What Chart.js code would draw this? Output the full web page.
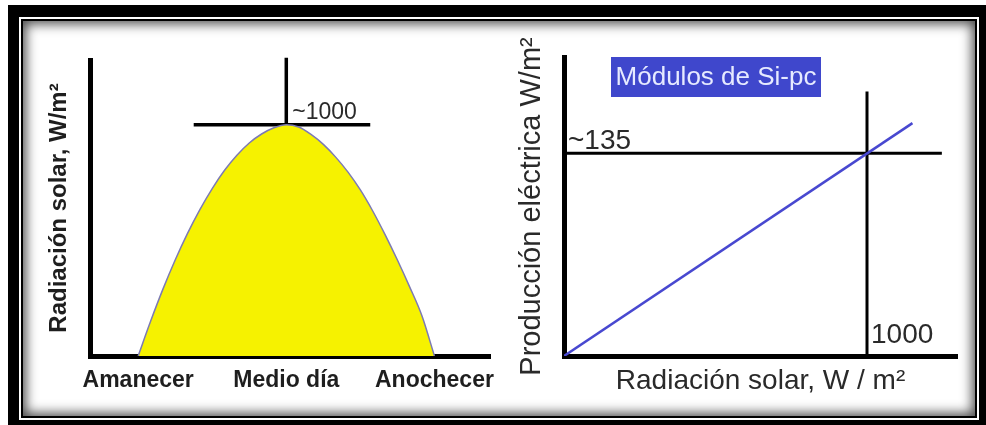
<!DOCTYPE html>
<html>
<head>
<meta charset="utf-8">
<script src="https://cdn.jsdelivr.net/npm/chart.js@4"></script>
<style>
  body { margin: 0; background: #fff; }
  #wrap { position: relative; width: 986px; height: 425px; overflow: hidden; }
  .marco { position: absolute; left: 8px; top: 5px; width: 978px; height: 420px; background: #000; }
  .hueco { position: absolute; left: 19px; top: 17px; width: 960px; height: 403px; background: #fff; }
  .linea { position: absolute; left: 21px; top: 19px; width: 952px; height: 395px; border: 2px solid #000;
           background: #fff; box-shadow: inset 0 0 12px 3px rgba(0,0,0,.7); }
  canvas { position: absolute; left: 0; top: 0; }
</style>
</head>
<body>
<div id="wrap">
  <div class="marco"></div>
  <div class="hueco"></div>
  <div class="linea"></div>
  <canvas id="dia" width="986" height="425"></canvas>
  <canvas id="modulo" width="986" height="425"></canvas>
</div>
<script>
// radiación solar a lo largo del día (hora, W/m2)
const horas     = [6, 6.5, 7, 7.5, 8, 8.5, 9, 9.5, 10, 10.5, 11, 11.5, 12, 12.5, 13, 13.5, 14, 14.5, 15, 15.5, 16, 16.5, 17, 17.5, 18];
const radiacion = [0, 149, 288, 415, 530, 633, 724, 803, 868, 921, 960, 987, 1000, 990, 958, 915, 860, 795, 718, 627, 525, 415, 298, 172, 0];
const horasEje     = [6, 12, 18];
const etiquetasEje = ['Amanecer', 'Medio día', 'Anochecer'];
const pico = 1000;          // ~1000 W/m2 al mediodía
const mediodia = 12;
const tramoPico = [8.25, 15.4];

// producción del módulo frente a la radiación
const radEntrada   = [0, 1150];
const prodSalida   = [0, 155];
const radRef  = 1000;
const prodRef = 135;

const fuente = "'Liberation Sans', Arial, sans-serif";
Chart.defaults.font.family = fuente;
Chart.defaults.animation = false;
Chart.defaults.events = [];
Chart.defaults.plugins.legend.display = false;
Chart.defaults.plugins.tooltip.enabled = false;

const negro = '#000';
const texto = '#1e1e1e';

const textoPico = {
  id: 'textoPico',
  afterDatasetsDraw(chart) {
    const {ctx, scales: {x, y}} = chart;
    ctx.save();
    ctx.font = '23px ' + fuente;
    ctx.fillStyle = '#2a2a2a';
    ctx.textAlign = 'left';
    ctx.textBaseline = 'alphabetic';
    ctx.fillText('~' + pico, x.getPixelForValue(mediodia) + 6, y.getPixelForValue(pico) - 6);
    ctx.restore();
  }
};

new Chart('dia', {
  type: 'line',
  data: {
    datasets: [{
      data: horas.map((h, i) => ({x: h, y: radiacion[i]})),
      borderColor: '#7c7ab4',
      borderWidth: 1.5,
      backgroundColor: 'rgb(246,242,0)',
      fill: 'origin',
      cubicInterpolationMode: 'monotone',
      pointRadius: 0
    }, {
      data: tramoPico.map(h => ({x: h, y: pico})),
      borderColor: negro, borderWidth: 3.5, pointRadius: 0
    }, {
      data: [{x: mediodia, y: 0}, {x: mediodia, y: 1290}],
      borderColor: negro, borderWidth: 3.5, pointRadius: 0, clip: false
    }]
  },
  options: {
    responsive: false,
    layout: { padding: {left: 0, top: 60, right: 496, bottom: 0} },
    scales: {
      x: {
        type: 'linear', min: 4.05, max: 20.25,
        grid: { display: false, drawTicks: false },
        border: { display: true, color: negro, width: 5 },
        afterBuildTicks: s => { s.ticks = horasEje.map(v => ({value: v})); },
        afterFit: s => { s.height = 69; },
        ticks: {
          autoSkip: false, maxRotation: 0, padding: 11, color: texto,
          font: { size: 23, weight: 'bold' },
          callback: v => etiquetasEje[horasEje.indexOf(v)]
        }
      },
      y: {
        min: 0, max: 1280,
        grid: { display: false, drawTicks: false },
        border: { display: true, color: negro, width: 5 },
        ticks: { display: false },
        afterFit: s => { s.width = 90; },
        title: {
          display: true, text: 'Radiación solar, W/m²', color: texto,
          font: { size: 24, weight: 'bold' }, padding: {top: 45, bottom: 0}
        }
      }
    }
  },
  plugins: [textoPico]
});

const textoModulo = {
  id: 'textoModulo',
  afterDatasetsDraw(chart) {
    const {ctx, chartArea, scales: {x, y}} = chart;
    ctx.save();
    // recuadro del tipo de módulo
    ctx.fillStyle = '#3f47cc';
    ctx.fillRect(chartArea.left + 47, chartArea.top, 210, 40);
    ctx.font = '26px ' + fuente;
    ctx.fillStyle = '#e6eaff';
    ctx.textAlign = 'center';
    ctx.textBaseline = 'middle';
    ctx.fillText('Módulos de Si-pc', chartArea.left + 152, chartArea.top + 21);
    // valores de referencia
    ctx.font = '28px ' + fuente;
    ctx.fillStyle = '#2a2a2a';
    ctx.textAlign = 'left';
    ctx.textBaseline = 'alphabetic';
    ctx.fillText('~' + prodRef, x.getPixelForValue(0) + 4, y.getPixelForValue(prodRef) - 4);
    ctx.fillText(String(radRef), x.getPixelForValue(radRef) + 4, y.getPixelForValue(0) - 13);
    ctx.restore();
  }
};

new Chart('modulo', {
  type: 'line',
  data: {
    datasets: [{
      data: radEntrada.map((r, i) => ({x: r, y: prodSalida[i]})),
      borderColor: 'rgb(72,72,208)', borderWidth: 2.5, pointRadius: 0
    }, {
      data: [{x: 0, y: prodRef}, {x: 1247, y: prodRef}],
      borderColor: negro, borderWidth: 3, pointRadius: 0
    }, {
      data: [{x: radRef, y: 0}, {x: radRef, y: 176}],
      borderColor: negro, borderWidth: 3, pointRadius: 0
    }]
  },
  options: {
    responsive: false,
    layout: { padding: {left: 500, top: 57, right: 29, bottom: 0} },
    scales: {
      x: {
        type: 'linear', min: 0, max: 1297,
        grid: { display: false, drawTicks: false },
        border: { display: true, color: negro, width: 5 },
        ticks: { display: false },
        afterFit: s => { s.height = 69; },
        title: {
          display: true, text: 'Radiación solar, W / m²', color: '#2a2a2a',
          font: { size: 28 }, padding: {top: 0, bottom: 27}
        }
      },
      y: {
        min: 0, max: 199,
        grid: { display: false, drawTicks: false },
        border: { display: true, color: negro, width: 5 },
        ticks: { display: false },
        afterFit: s => { s.width = 64; },
        title: {
          display: true, text: 'Producción eléctrica W/m²', color: '#2a2a2a',
          font: { size: 29 }, padding: {top: 15, bottom: 0}
        }
      }
    }
  },
  plugins: [textoModulo]
});
</script>
</body>
</html>
